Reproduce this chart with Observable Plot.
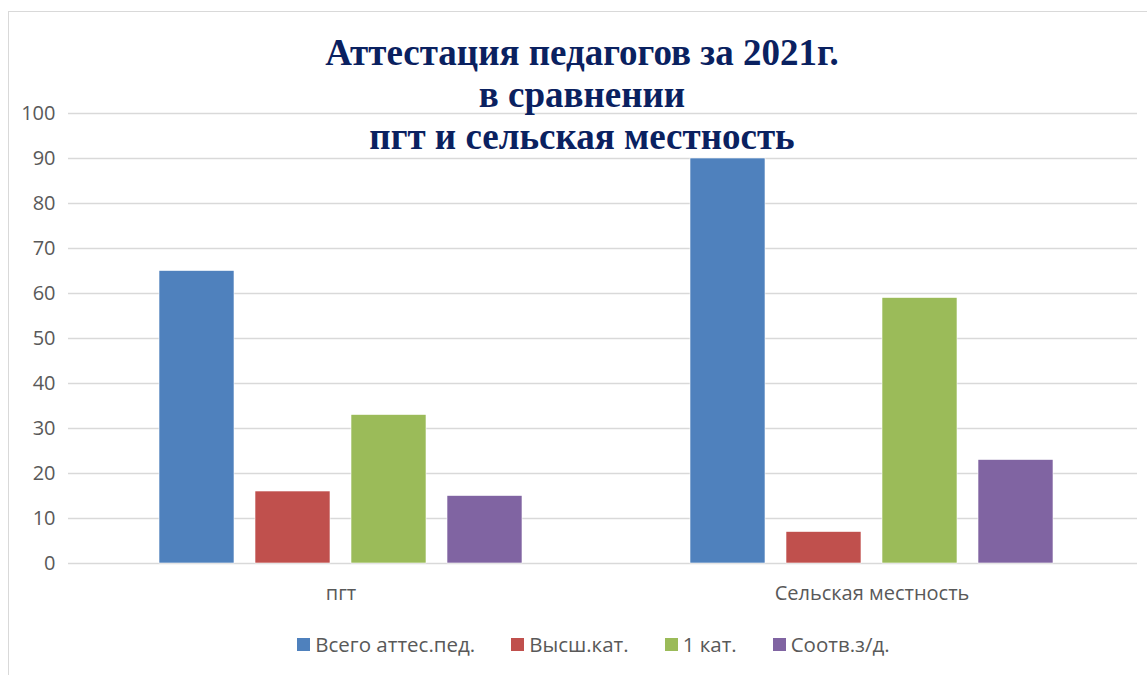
<!DOCTYPE html>
<html>
<head>
<meta charset="utf-8">
<script src="https://cdn.jsdelivr.net/npm/d3@7"></script>
<script src="https://cdn.jsdelivr.net/npm/@observablehq/plot@0.6"></script>
<style>
  html, body { margin: 0; padding: 0; background: #fff; }
  body { width: 1147px; height: 675px; position: relative; overflow: hidden; font-family: "Open Sans", "Liberation Sans", sans-serif; }
  #frame { position: absolute; left: 8px; top: 11px; width: 1160px; height: 700px; border: 1px solid #d9d9d9; box-sizing: border-box; }
  #chart { position: absolute; left: 0; top: 0; width: 1147px; }
  #chart svg text { font-size: 20px; fill: #595959; }
  #title { position: absolute; left: 282px; width: 600px; top: 32px; text-align: center; font-family: "Liberation Serif", "Times New Roman", serif; font-weight: bold; font-size: 37px; line-height: 42px; color: #0a2160; }
  #legend { position: absolute; top: 630px; left: 0; width: 1187px; display: flex; justify-content: center; gap: 36px; font-size: 20.5px; color: #595959; }
  .item { display: flex; align-items: center; gap: 5px; }
  .sw { width: 13px; height: 13px; display: inline-block; }
</style>
</head>
<body>
<div id="frame"></div>
<div id="chart"></div>
<div id="title">Аттестация педагогов за 2021г.<br>в сравнении<br>пгт и сельская местность</div>
<div id="legend"></div>
<script>
const categories = ["пгт", "Сельская местность"];
const seriesNames = ["Всего аттес.пед.", "Высш.кат.", "1 кат.", "Соотв.з/д."];
const seriesColors = ["#4f81bd", "#c0504d", "#9bbb59", "#8064a2"];
const valuesTotal = [65, 90];
const valuesHigh = [16, 7];
const valuesFirst = [33, 59];
const valuesMatch = [15, 23];
const yTicks = [0, 10, 20, 30, 40, 50, 60, 70, 80, 90, 100];

const seriesValues = [valuesTotal, valuesHigh, valuesFirst, valuesMatch];
const data = [];
categories.forEach((c, ci) => {
  seriesNames.forEach((s, si) => {
    data.push({cat: c, series: s, value: seriesValues[si][ci]});
  });
});

const plot = Plot.plot({
  width: 1147,
  height: 620,
  marginTop: 113,
  marginBottom: 57,
  marginLeft: 75,
  marginRight: 10,
  style: {fontFamily: "'Open Sans', 'Liberation Sans', sans-serif", fontSize: "20px", color: "#595959", background: "transparent"},
  fx: {domain: categories, padding: 0, label: null, tickSize: 0, tickPadding: 22},
  x: {domain: seriesNames, paddingInner: 0.219, paddingOuter: 0.867, axis: null},
  y: {domain: [0, 100], label: null, axis: null},
  color: {domain: seriesNames, range: seriesColors},
  marks: [
    Plot.ruleY(yTicks, {stroke: "#d9d9d9", strokeWidth: 1.5}),
    Plot.axisY({ticks: yTicks, tickSize: 7, tickPadding: 13, stroke: "#d9d9d9", strokeWidth: 1.5, fill: "#595959", label: null}),
    Plot.barY(data, {fx: "cat", x: "series", y: "value", fill: "series", stroke: "#ffffff", strokeWidth: 0.6})
  ]
});
document.getElementById("chart").appendChild(plot);

const legend = document.getElementById("legend");
seriesNames.forEach((s, i) => {
  const it = document.createElement("div");
  it.className = "item";
  const sw = document.createElement("span");
  sw.className = "sw";
  sw.style.background = seriesColors[i];
  const t = document.createElement("span");
  t.textContent = s;
  it.appendChild(sw);
  it.appendChild(t);
  legend.appendChild(it);
});
</script>
</body>
</html>
